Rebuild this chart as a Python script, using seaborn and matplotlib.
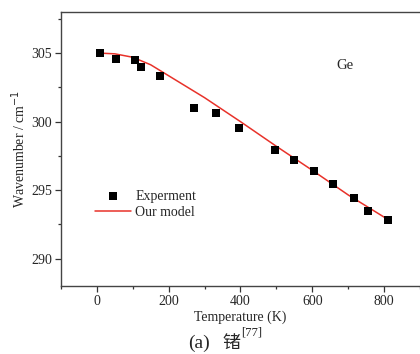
import matplotlib
matplotlib.use("Agg")
import matplotlib.pyplot as plt
import seaborn as sns
import pandas as pd

exp_T = [9, 53, 105, 124, 176, 271, 333, 396, 496, 548, 606, 658, 715, 754, 811]
exp_w = [305.0, 304.6, 304.5, 304.0, 303.35, 301.0, 300.65, 299.5, 297.95,
         297.2, 296.4, 295.45, 294.4, 293.5, 292.85]

# model curve
model_T = [9, 50, 100, 150, 200, 250, 300, 400, 500, 600, 700, 805]
model_w = [305.0, 304.95, 304.7, 304.15, 303.35, 302.55, 301.75, 300.0,
           298.2, 296.45, 294.65, 292.95]

x_ticks = [0, 200, 400, 600, 800]
y_ticks = [290, 295, 300, 305]

sns.set_style("ticks")
plt.rcParams["font.family"] = ["Liberation Serif", "Noto Sans CJK SC"]
plt.rcParams["xtick.direction"] = "out"
plt.rcParams["ytick.direction"] = "out"

exp_df = pd.DataFrame({"T": exp_T, "w": exp_w})
model_df = pd.DataFrame({"T": model_T, "w": model_w})

fig = plt.figure(figsize=(4.2, 3.54), dpi=100)
ax = fig.add_axes([0.145, 0.192, 0.855, 0.774])

sns.lineplot(data=model_df, x="T", y="w", ax=ax, color="#e8322a", linewidth=1.1,
             label="Our model")
sns.scatterplot(data=exp_df, x="T", y="w", ax=ax, marker="s", color="black",
                s=26, edgecolor="black", linewidth=0, label="Experment", zorder=3)

ax.set_xlim(-100, 900)
ax.set_ylim(288, 308)
ax.set_xticks(x_ticks)
ax.set_yticks(y_ticks)
ax.set_xticks([-100, 100, 300, 500, 700, 900], minor=True)
ax.set_yticks([292.5, 297.5, 302.5, 307.5], minor=True)
ax.tick_params(labelsize=10, length=4, width=0.9, color="#333333", pad=2.5)
ax.tick_params(which="minor", length=2.5, width=0.9, color="#333333")

for side in ["left", "bottom", "top"]:
    ax.spines[side].set_color("#444444")
    ax.spines[side].set_linewidth(1.0)
ax.spines["top"].set_visible(True)
ax.spines["right"].set_visible(False)

ax.set_xlabel("Temperature (K)", fontsize=10, labelpad=2)
ax.set_ylabel("Wavenumber / cm$^{-1}$", fontsize=10, labelpad=2)

ax.text(667, 304.1, "Ge", fontsize=10.5, va="center")

handles, labels = ax.get_legend_handles_labels()
order = [labels.index("Experment"), labels.index("Our model")]
ax.legend([handles[i] for i in order], [labels[i] for i in order],
          loc="lower left", bbox_to_anchor=(0.06, 0.20), frameon=False,
          fontsize=10, handlelength=2.6, handletextpad=0.3, labelspacing=0.2)

fig.text(0.448, 0.031, "(a)", fontsize=14, ha="left", va="center")
fig.text(0.529, 0.031, "锗", fontsize=13, ha="left", va="center",
         family=["Noto Sans CJK SC"])
fig.text(0.574, 0.062, "[77]", fontsize=9, ha="left", va="center")

fig.savefig("out.png", dpi=100)
